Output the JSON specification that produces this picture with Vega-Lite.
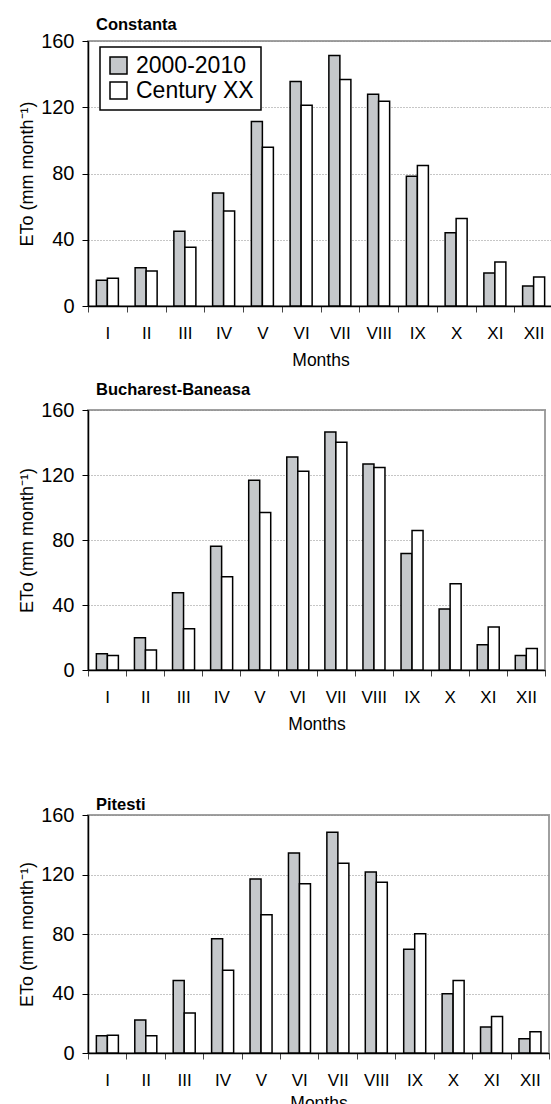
{
  "$schema": "https://vega.github.io/schema/vega-lite/v6.json",
  "background": "white",
  "padding": {"left": 17, "top": 15, "right": 0, "bottom": 0},
  "bounds": "flush",
  "spacing": 0,
  "data": {
    "values": [
      {"station": "Constanta", "month": "I", "period": "2000-2010", "eto": 15.5},
      {"station": "Constanta", "month": "I", "period": "Century XX", "eto": 16.7},
      {"station": "Constanta", "month": "II", "period": "2000-2010", "eto": 23.1},
      {"station": "Constanta", "month": "II", "period": "Century XX", "eto": 21.1},
      {"station": "Constanta", "month": "III", "period": "2000-2010", "eto": 45.2},
      {"station": "Constanta", "month": "III", "period": "Century XX", "eto": 35.4},
      {"station": "Constanta", "month": "IV", "period": "2000-2010", "eto": 68.3},
      {"station": "Constanta", "month": "IV", "period": "Century XX", "eto": 57.3},
      {"station": "Constanta", "month": "V", "period": "2000-2010", "eto": 111.4},
      {"station": "Constanta", "month": "V", "period": "Century XX", "eto": 95.9},
      {"station": "Constanta", "month": "VI", "period": "2000-2010", "eto": 135.5},
      {"station": "Constanta", "month": "VI", "period": "Century XX", "eto": 121.2},
      {"station": "Constanta", "month": "VII", "period": "2000-2010", "eto": 151.2},
      {"station": "Constanta", "month": "VII", "period": "Century XX", "eto": 136.7},
      {"station": "Constanta", "month": "VIII", "period": "2000-2010", "eto": 127.8},
      {"station": "Constanta", "month": "VIII", "period": "Century XX", "eto": 123.6},
      {"station": "Constanta", "month": "IX", "period": "2000-2010", "eto": 78.4},
      {"station": "Constanta", "month": "IX", "period": "Century XX", "eto": 84.8},
      {"station": "Constanta", "month": "X", "period": "2000-2010", "eto": 44.2},
      {"station": "Constanta", "month": "X", "period": "Century XX", "eto": 52.9},
      {"station": "Constanta", "month": "XI", "period": "2000-2010", "eto": 19.9},
      {"station": "Constanta", "month": "XI", "period": "Century XX", "eto": 26.5},
      {"station": "Constanta", "month": "XII", "period": "2000-2010", "eto": 12.1},
      {"station": "Constanta", "month": "XII", "period": "Century XX", "eto": 17.5},
      {"station": "Bucharest-Baneasa", "month": "I", "period": "2000-2010", "eto": 10.0},
      {"station": "Bucharest-Baneasa", "month": "I", "period": "Century XX", "eto": 9.0},
      {"station": "Bucharest-Baneasa", "month": "II", "period": "2000-2010", "eto": 19.9},
      {"station": "Bucharest-Baneasa", "month": "II", "period": "Century XX", "eto": 12.3},
      {"station": "Bucharest-Baneasa", "month": "III", "period": "2000-2010", "eto": 47.5},
      {"station": "Bucharest-Baneasa", "month": "III", "period": "Century XX", "eto": 25.4},
      {"station": "Bucharest-Baneasa", "month": "IV", "period": "2000-2010", "eto": 76.2},
      {"station": "Bucharest-Baneasa", "month": "IV", "period": "Century XX", "eto": 57.4},
      {"station": "Bucharest-Baneasa", "month": "V", "period": "2000-2010", "eto": 116.8},
      {"station": "Bucharest-Baneasa", "month": "V", "period": "Century XX", "eto": 96.9},
      {"station": "Bucharest-Baneasa", "month": "VI", "period": "2000-2010", "eto": 131.1},
      {"station": "Bucharest-Baneasa", "month": "VI", "period": "Century XX", "eto": 122.3},
      {"station": "Bucharest-Baneasa", "month": "VII", "period": "2000-2010", "eto": 146.5},
      {"station": "Bucharest-Baneasa", "month": "VII", "period": "Century XX", "eto": 140.1},
      {"station": "Bucharest-Baneasa", "month": "VIII", "period": "2000-2010", "eto": 126.8},
      {"station": "Bucharest-Baneasa", "month": "VIII", "period": "Century XX", "eto": 124.6},
      {"station": "Bucharest-Baneasa", "month": "IX", "period": "2000-2010", "eto": 71.7},
      {"station": "Bucharest-Baneasa", "month": "IX", "period": "Century XX", "eto": 85.8},
      {"station": "Bucharest-Baneasa", "month": "X", "period": "2000-2010", "eto": 37.5},
      {"station": "Bucharest-Baneasa", "month": "X", "period": "Century XX", "eto": 53.1},
      {"station": "Bucharest-Baneasa", "month": "XI", "period": "2000-2010", "eto": 15.6},
      {"station": "Bucharest-Baneasa", "month": "XI", "period": "Century XX", "eto": 26.4},
      {"station": "Bucharest-Baneasa", "month": "XII", "period": "2000-2010", "eto": 9.0},
      {"station": "Bucharest-Baneasa", "month": "XII", "period": "Century XX", "eto": 13.3},
      {"station": "Pitesti", "month": "I", "period": "2000-2010", "eto": 11.6},
      {"station": "Pitesti", "month": "I", "period": "Century XX", "eto": 11.9},
      {"station": "Pitesti", "month": "II", "period": "2000-2010", "eto": 22.2},
      {"station": "Pitesti", "month": "II", "period": "Century XX", "eto": 11.6},
      {"station": "Pitesti", "month": "III", "period": "2000-2010", "eto": 48.8},
      {"station": "Pitesti", "month": "III", "period": "Century XX", "eto": 26.9},
      {"station": "Pitesti", "month": "IV", "period": "2000-2010", "eto": 76.8},
      {"station": "Pitesti", "month": "IV", "period": "Century XX", "eto": 55.7},
      {"station": "Pitesti", "month": "V", "period": "2000-2010", "eto": 117.0},
      {"station": "Pitesti", "month": "V", "period": "Century XX", "eto": 92.9},
      {"station": "Pitesti", "month": "VI", "period": "2000-2010", "eto": 134.5},
      {"station": "Pitesti", "month": "VI", "period": "Century XX", "eto": 113.7},
      {"station": "Pitesti", "month": "VII", "period": "2000-2010", "eto": 148.4},
      {"station": "Pitesti", "month": "VII", "period": "Century XX", "eto": 127.5},
      {"station": "Pitesti", "month": "VIII", "period": "2000-2010", "eto": 121.7},
      {"station": "Pitesti", "month": "VIII", "period": "Century XX", "eto": 114.8},
      {"station": "Pitesti", "month": "IX", "period": "2000-2010", "eto": 69.8},
      {"station": "Pitesti", "month": "IX", "period": "Century XX", "eto": 80.1},
      {"station": "Pitesti", "month": "X", "period": "2000-2010", "eto": 39.8},
      {"station": "Pitesti", "month": "X", "period": "Century XX", "eto": 48.8},
      {"station": "Pitesti", "month": "XI", "period": "2000-2010", "eto": 17.5},
      {"station": "Pitesti", "month": "XI", "period": "Century XX", "eto": 24.6},
      {"station": "Pitesti", "month": "XII", "period": "2000-2010", "eto": 9.6},
      {"station": "Pitesti", "month": "XII", "period": "Century XX", "eto": 14.3}
    ]
  },
  "resolve": {"scale": {"color": "independent", "x": "independent", "y": "independent"}},
  "vconcat": [
    {
      "width": 465, "height": 265,
      "title": {"text": "Constanta", "offset": 0, "dy": 2},
      "transform": [{"filter": "datum.station === 'Constanta'"}],
      "mark": {"type": "bar", "stroke": "black", "strokeWidth": 1.5},
      "encoding": {
        "x": {"field": "month", "type": "nominal", "sort": ["I","II","III","IV","V","VI","VII","VIII","IX","X","XI","XII"], "scale": {"paddingInner": 0, "paddingOuter": 0}, "axis": {"title": "Months", "titlePadding": 10}},
        "xOffset": {"field": "period", "type": "nominal", "sort": ["2000-2010","Century XX"], "scale": {"paddingInner": 0, "paddingOuter": 0.76}},
        "y": {"field": "eto", "type": "quantitative", "scale": {"domain": [0, 160], "nice": false}, "axis": {"title": "ETo (mm month⁻¹)", "values": [0, 40, 80, 120, 160]}},
        "color": {"field": "period", "type": "nominal", "sort": ["2000-2010","Century XX"], "scale": {"domain": ["2000-2010","Century XX"], "range": ["#c5c8cb","#ffffff"]},
          "legend": {"orient": "none", "legendX": 12, "legendY": 6, "title": null}}
      }
    },
    {
      "width": 10, "height": 103.6,
      "view": {"stroke": null},
      "data": {"values": [{"s": 1}]},
      "mark": {"type": "point", "opacity": 0},
      "encoding": {}
    },
    {
      "width": 457, "height": 260,
      "title": {"text": "Bucharest-Baneasa", "offset": 2},
      "transform": [{"filter": "datum.station === 'Bucharest-Baneasa'"}],
      "mark": {"type": "bar", "stroke": "black", "strokeWidth": 1.5},
      "encoding": {
        "x": {"field": "month", "type": "nominal", "sort": ["I","II","III","IV","V","VI","VII","VIII","IX","X","XI","XII"], "scale": {"paddingInner": 0, "paddingOuter": 0}, "axis": {"title": "Months", "titlePadding": 10}},
        "xOffset": {"field": "period", "type": "nominal", "sort": ["2000-2010","Century XX"], "scale": {"paddingInner": 0, "paddingOuter": 0.76}},
        "y": {"field": "eto", "type": "quantitative", "scale": {"domain": [0, 160], "nice": false}, "axis": {"title": "ETo (mm month⁻¹)", "values": [0, 40, 80, 120, 160]}},
        "color": {"field": "period", "type": "nominal", "scale": {"domain": ["2000-2010","Century XX"], "range": ["#c5c8cb","#ffffff"]}, "legend": null}
      }
    },
    {
      "width": 10, "height": 144.6,
      "view": {"stroke": null},
      "data": {"values": [{"s": 1}]},
      "mark": {"type": "point", "opacity": 0},
      "encoding": {}
    },
    {
      "width": 461, "height": 238,
      "title": {"text": "Pitesti", "offset": 0, "dy": 8},
      "transform": [{"filter": "datum.station === 'Pitesti'"}],
      "mark": {"type": "bar", "stroke": "black", "strokeWidth": 1.5},
      "encoding": {
        "x": {"field": "month", "type": "nominal", "sort": ["I","II","III","IV","V","VI","VII","VIII","IX","X","XI","XII"], "scale": {"paddingInner": 0, "paddingOuter": 0}, "axis": {"title": "Months", "titlePadding": 6}},
        "xOffset": {"field": "period", "type": "nominal", "sort": ["2000-2010","Century XX"], "scale": {"paddingInner": 0, "paddingOuter": 0.76}},
        "y": {"field": "eto", "type": "quantitative", "scale": {"domain": [0, 160], "nice": false}, "axis": {"title": "ETo (mm month⁻¹)", "values": [0, 40, 80, 120, 160]}},
        "color": {"field": "period", "type": "nominal", "scale": {"domain": ["2000-2010","Century XX"], "range": ["#c5c8cb","#ffffff"]}, "legend": null}
      }
    }
  ],
  "config": {
    "font": "Liberation Sans",
    "view": {"stroke": "#a0a0a0", "strokeWidth": 2},
    "title": {"anchor": "start", "frame": "group", "dx": 8, "fontSize": 16.5, "font": "Liberation Sans", "fontWeight": "bold", "color": "black"},
    "axis": {"labelFont": "Liberation Sans", "titleFont": "Liberation Sans", "labelColor": "black", "titleColor": "black", "domainColor": "black", "tickColor": "black", "titleFontWeight": "normal", "domainWidth": 1.5, "tickWidth": 1},
    "axisY": {"grid": true, "gridColor": "#8c8c8c", "gridDash": [1, 2], "gridWidth": 1, "labelFontSize": 20, "titleFontSize": 18, "tickSize": 6, "labelPadding": 8, "titlePadding": 4},
    "axisX": {"labelAngle": 0, "labelFontSize": 17, "titleFontSize": 17.5, "tickSize": 6, "tickBand": "extent", "labelPadding": 13, "tickColor": "#444"},
    "legend": {"labelFont": "Liberation Sans", "labelFontSize": 23, "labelColor": "black", "symbolType": "square", "symbolSize": 289, "symbolStrokeColor": "black", "symbolStrokeWidth": 1.5, "strokeColor": "black", "strokeWidth": 1.5, "fillColor": "white", "padding": 7, "rowPadding": 1, "labelOffset": 6, "symbolOpacity": 1}
  }
}
